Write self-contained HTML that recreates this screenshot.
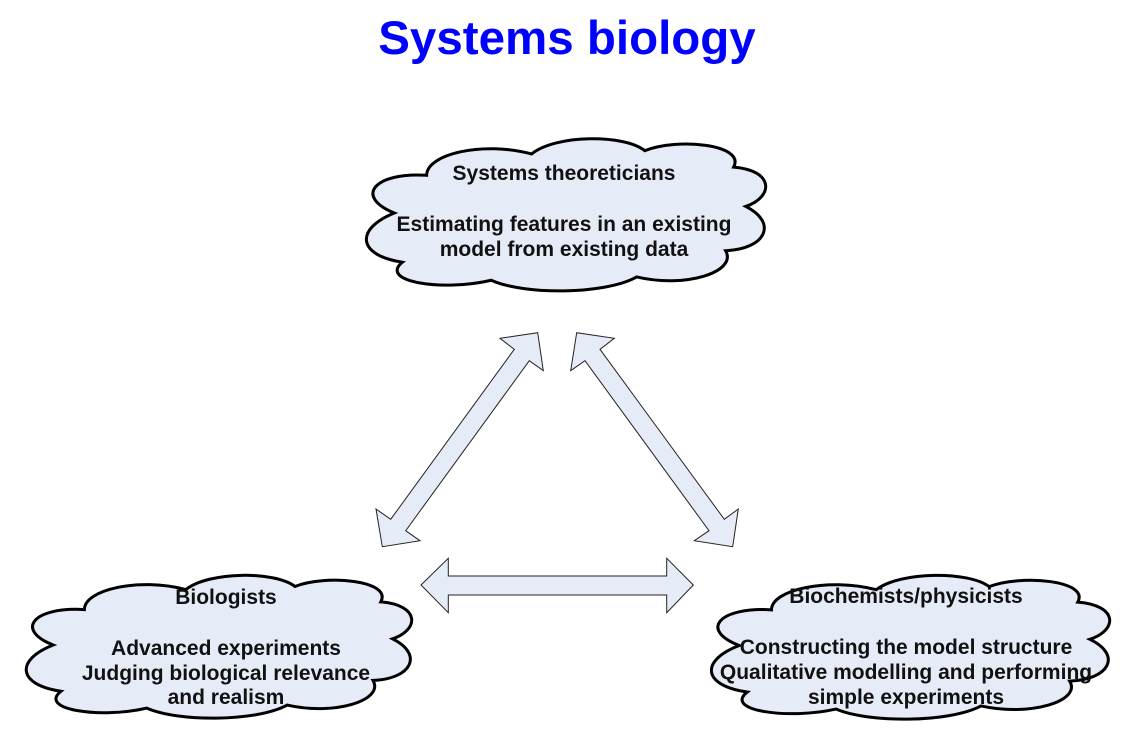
<!DOCTYPE html>
<html><head><meta charset="utf-8"><style>
body{margin:0;background:#fff;}
svg{display:block;}
text{font-family:"Liberation Sans",Arial,sans-serif;font-weight:bold;}
</style></head><body>
<svg width="1137" height="756" viewBox="0 0 1137 756" xmlns="http://www.w3.org/2000/svg">
<text x="567" y="54" font-size="47.5" fill="#0000ff" text-anchor="middle">Systems biology</text>

<g fill="#e6ecf7" stroke="#000" stroke-width="3">
<g transform="translate(362,131) scale(4.04,1.64)"><path vector-effect="non-scaling-stroke" d="M 8,50 C -2,40 3,25 16,27 C 16,14 30,6 42,14 C 48,2 65,2 70,12 C 78,4 95,8 92,22 C 102,24 102,40 95,46 C 103,56 100,72 90,73 C 93,86 80,96 68,89 C 60,100 40,100 32,91 C 20,98 4,92 10,80 C -1,76 -2,60 8,50 Z"/></g>
<g transform="translate(22,568) scale(3.9,1.54)"><path vector-effect="non-scaling-stroke" d="M 8,50 C -2,40 3,25 16,27 C 16,14 30,6 42,14 C 48,2 65,2 70,12 C 78,4 95,8 92,22 C 102,24 102,40 95,46 C 103,56 100,72 90,73 C 93,86 80,96 68,89 C 60,100 40,100 32,91 C 20,98 4,92 10,80 C -1,76 -2,60 8,50 Z"/></g>
<g transform="translate(707,568) scale(4.03,1.55)"><path vector-effect="non-scaling-stroke" d="M 8,50 C -2,40 3,25 16,27 C 16,14 30,6 42,14 C 48,2 65,2 70,12 C 78,4 95,8 92,22 C 102,24 102,40 95,46 C 103,56 100,72 90,73 C 93,86 80,96 68,89 C 60,100 40,100 32,91 C 20,98 4,92 10,80 C -1,76 -2,60 8,50 Z"/></g>
</g>

<g fill="#e6ecf7" stroke="#222" stroke-width="1">
<polygon points="537.7,332.7 543.3,370.7 529.3,360.7 405.7,530.7 420,540.7 382.3,546.7 376,509 390.7,519.3 514.3,349.3 500,338.3"/>
<polygon points="576.7,332.7 570.7,370.7 585,360.7 709,530.7 694.3,540.7 732.7,546.7 738.3,509 724.3,519.3 600,349.3 614.3,338.3"/>
<polygon points="421,585 448.3,558.3 448.3,576 666.7,576 666.7,558.3 693.3,585 666.7,612.7 666.7,595 448.3,595 448.3,612.7"/>
</g>

<g font-size="21" fill="#111" text-anchor="middle">
<text x="564" y="180">Systems theoreticians</text>
<text x="564" y="231">Estimating features in an existing</text>
<text x="564" y="256">model from existing data</text>
<text x="226" y="604">Biologists</text>
<text x="226" y="655">Advanced experiments</text>
<text x="226" y="680">Judging biological relevance</text>
<text x="226" y="704">and realism</text>
<text x="906" y="603">Biochemists/physicists</text>
<text x="906" y="654">Constructing the model structure</text>
<text x="906" y="679">Qualitative modelling and performing</text>
<text x="906" y="704">simple experiments</text>
</g>
</svg>
</body></html>
